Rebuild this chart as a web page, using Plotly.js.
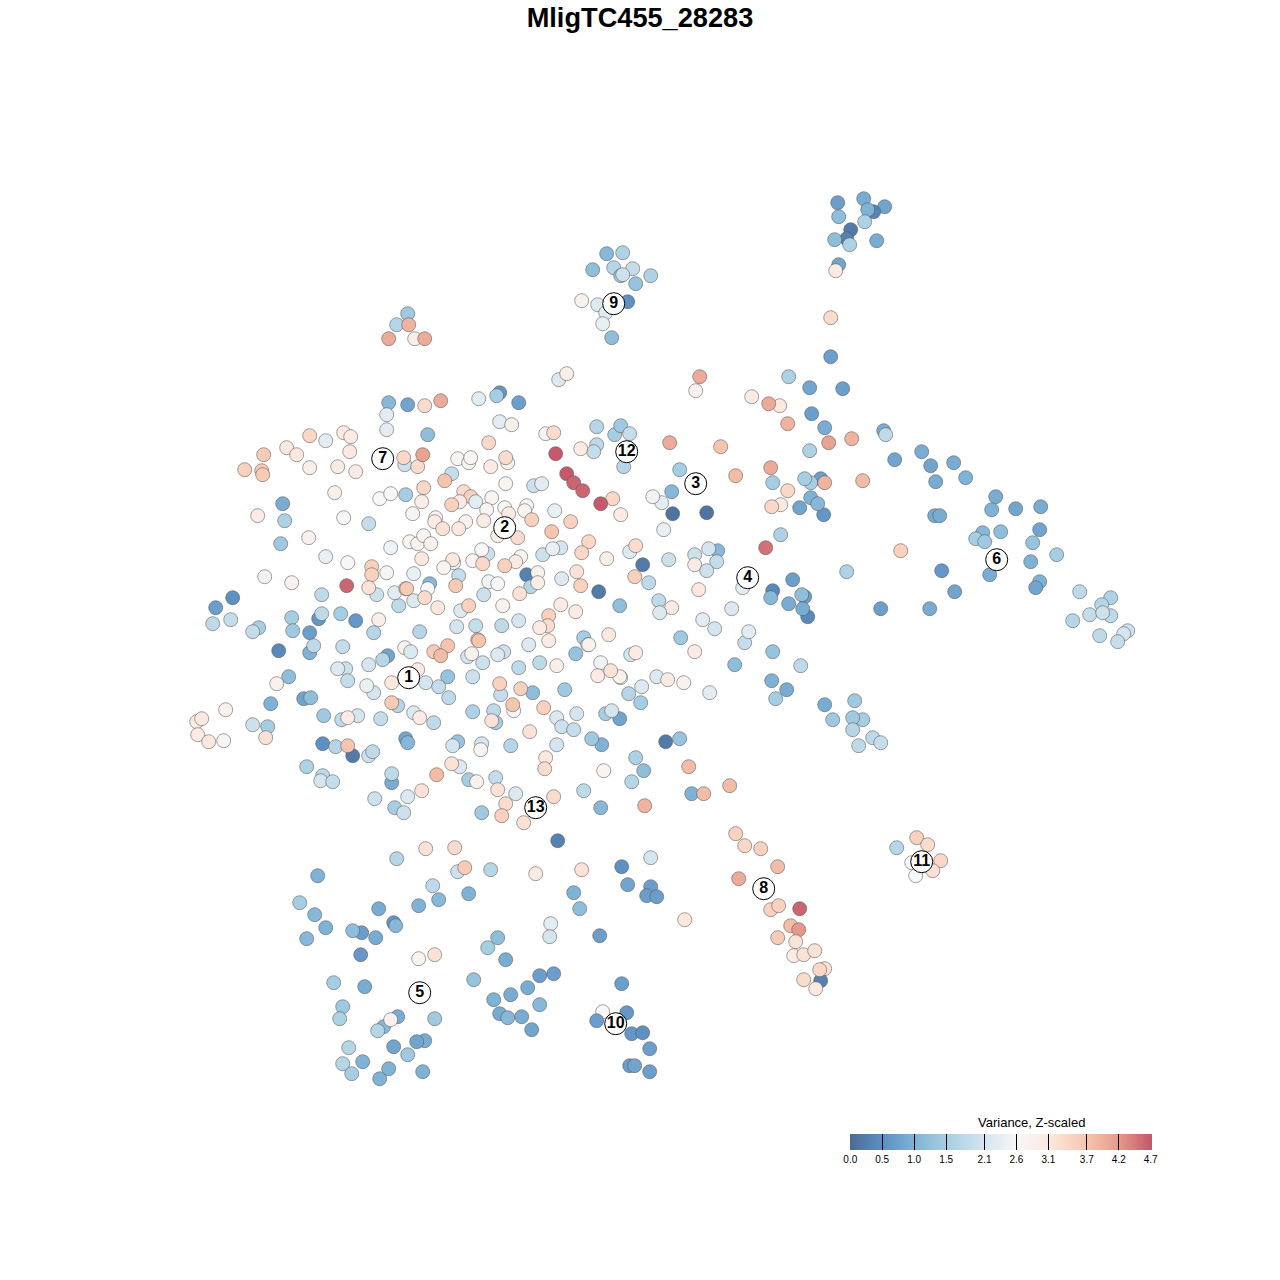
<!DOCTYPE html>
<html>
<head>
<meta charset="utf-8">
<script src="https://cdn.plot.ly/plotly-3.0.1.min.js"></script>
<style>html,body{margin:0;padding:0;background:#fff}#chart{width:1280px;height:1280px}</style>
</head>
<body>
<div id="chart"></div>
<script>
// Each point: [tSNE x, tSNE y, variance z-score]
const clusterTopRight = [[837,202,.7],[863,198,.9],[884,206,.8],[873,211,.3],[867,209,1.0],[838,216,1.2],[864,221,1.6],[850,229,.2],[846,238,.3],[834,239,1.2],[849,244,1.6],[876,240,.9],[838,264,.8],[835,270,3.0],[830,317,3.3],[830,356,.7]];
const cluster9 = [[606,253,1.1],[622,252,1.6],[592,269,1.2],[613,267,1.7],[632,268,1.9],[620,275,1.4],[622,274,2.0],[650,275,1.6],[635,283,1.3],[581,300,2.8],[597,304,2.2],[627,301,.5],[605,312,2.3],[602,323,2.4],[611,337,1.2]];
const clusterSmall = [[407,313,1.4],[396,324,1.7],[408,324,3.9],[388,338,4.0],[414,338,2.9],[424,338,4.0]];
const cluster3and4 = [[699,376,4.0],[695,390,2.8],[788,376,1.6],[809,387,.8],[842,388,.7],[751,396,3.0],[779,405,3.1],[768,403,4.0],[811,413,.7],[787,423,3.9],[824,427,.9],[828,442,4.1],[851,438,3.9],[809,450,1.6],[669,442,4.0],[720,446,3.7],[679,469,1.5],[770,467,4.0],[735,475,3.8],[772,482,1.5],[820,478,.7],[810,482,1.5],[804,478,1.5],[824,482,3.9],[862,480,3.8],[787,490,3.4],[671,491,1.1],[661,502,2.3],[652,496,2.5],[672,513,.1],[706,512,.1],[780,504,3.0],[771,506,3.4],[799,507,.8],[810,497,1.0],[823,514,.6],[817,503,1.1],[663,529,2.4],[780,534,1.6],[765,547,4.5],[629,551,2.2],[635,545,3.3],[717,550,1.1],[694,554,2.0],[708,548,2.1],[716,561,1.9],[668,559,2.0],[642,564,.2],[694,564,3.0],[706,570,2.0],[634,576,3.5],[648,582,1.8],[742,587,2.3],[846,571,1.6],[792,579,.7],[772,590,.4],[770,597,1.1],[698,589,3.1],[658,600,1.8],[671,607,3.0],[659,612,2.2],[619,605,1.2],[788,603,.9],[804,596,.7],[801,594,1.2],[807,616,.4],[802,608,.9],[731,608,2.2],[702,619,2.3],[714,628,2.1],[880,608,.7]];
const clusterMidRight = [[680,637,1.4],[744,642,1.9],[748,631,2.3],[694,651,3.0],[772,651,1.3],[630,654,2.1],[635,652,3.0],[734,664,1.2],[800,665,1.8],[620,677,2.6],[656,676,2.2],[667,679,3.0],[683,682,2.8],[641,686,2.2],[628,693,1.7],[709,692,2.3],[640,702,1.5],[771,680,1.0],[786,689,.9],[775,698,1.5],[824,704,.9],[854,700,1.4],[832,719,1.4],[862,719,1.5],[852,717,1.4],[852,729,1.7],[872,737,1.8],[880,742,1.9],[858,745,1.8],[665,741,.2],[679,738,1.3],[635,757,1.6],[643,770,1.2],[631,781,1.7],[688,766,3.8],[729,785,3.8],[691,793,1.0],[703,793,3.8],[644,805,3.9]];
const cluster13 = [[410,651,2.2],[433,651,3.6],[447,645,3.7],[440,655,3.8],[478,640,3.7],[467,656,2.1],[471,653,2.8],[482,662,2.0],[503,651,2.0],[497,654,2.2],[528,644,2.2],[548,640,3.0],[575,653,1.3],[588,644,2.8],[539,662,1.8],[518,667,1.8],[556,665,2.9],[600,662,2.5],[597,675,3.0],[619,676,2.8],[610,670,3.2],[417,669,3.0],[447,676,1.3],[425,682,2.1],[438,686,1.9],[448,697,1.8],[472,676,2.0],[500,694,1.9],[499,683,3.5],[532,692,1.2],[520,688,3.5],[564,689,1.4],[513,710,2.6],[512,704,3.7],[543,707,3.5],[413,712,2.2],[419,717,3.0],[433,722,1.8],[472,711,1.6],[493,710,1.8],[495,722,1.5],[491,720,3.2],[556,717,2.2],[561,726,2.0],[573,729,1.9],[576,713,2.1],[619,718,.8],[605,713,1.5],[611,710,2.1],[529,731,3.2],[601,744,1.0],[591,738,1.4],[405,738,.8],[407,742,1.1],[457,741,1.3],[452,745,2.1],[481,743,2.1],[480,749,2.7],[510,745,1.7],[556,744,2.1],[545,757,3.1],[544,768,3.3],[459,766,2.2],[451,763,3.2],[436,774,3.8],[468,779,1.5],[476,781,2.8],[495,777,1.9],[497,789,3.2],[421,790,3.2],[407,796,2.2],[515,793,2.2],[505,803,3.3],[481,812,1.4],[501,815,3.5],[523,822,3.2],[553,796,3.3],[583,790,1.8],[603,770,2.7],[600,807,1.1],[403,812,2.0],[557,840,.3]];
const clusterLeft1 = [[215,607,.7],[232,597,.5],[212,623,1.8],[230,619,1.9],[258,627,1.5],[252,631,1.9],[291,617,1.5],[292,630,1.4],[318,618,.6],[321,613,1.8],[340,613,1.5],[355,620,.6],[378,619,2.9],[373,632,1.7],[398,605,1.8],[413,600,2.2],[309,632,.7],[342,646,1.9],[309,652,1.0],[313,645,1.8],[278,650,.4],[419,631,1.7],[404,647,2.8],[387,655,.8],[382,659,1.7],[368,664,2.1],[345,668,2.0],[337,668,2.2],[347,680,1.9],[373,692,2.1],[366,685,2.4],[391,682,3.1],[288,676,1.2],[276,683,2.8],[303,698,.8],[310,697,1.2],[270,703,1.0],[397,705,1.7],[391,702,3.6],[380,718,1.9],[323,715,1.4],[341,719,1.8],[357,715,2.1],[347,717,3.0],[225,709,2.8],[196,721,3.0],[201,718,3.1],[197,734,3.0],[208,741,3.1],[223,740,2.7],[252,724,2.0],[267,726,1.5],[265,737,3.2],[322,743,.5],[335,746,1.7],[352,755,.2],[347,745,3.7],[368,755,2.0],[372,751,1.8],[306,766,1.6],[322,775,1.8],[320,780,2.1],[332,781,1.9],[391,782,.9],[391,773,1.8],[374,798,2.0],[394,807,1.5]];
const clusterLeft7 = [[388,402,1.1],[407,404,.8],[386,414,2.3],[386,429,2.3],[309,435,3.4],[325,440,2.3],[343,432,3.0],[350,436,3.0],[349,451,3.1],[286,447,3.1],[296,454,3.1],[263,454,3.6],[244,469,3.5],[261,470,3.6],[262,474,3.6],[309,467,2.9],[337,466,3.0],[355,471,3.0],[404,464,2.0],[403,457,3.4],[417,466,3.3],[422,454,4.1],[334,492,2.9],[282,503,.9],[257,515,3.0],[284,520,1.6],[379,498,2.6],[390,493,2.6],[405,494,1.5],[343,517,2.6],[368,523,1.9],[412,513,2.7],[308,537,2.8],[280,543,1.4],[325,556,2.4],[347,562,2.6],[390,547,2.5],[409,541,2.7],[417,543,2.7],[371,566,3.5],[371,574,3.5],[386,572,2.7],[413,573,2.4],[264,576,2.5],[291,582,2.8],[346,585,4.6],[376,594,2.0],[368,587,3.2],[321,594,1.8],[394,592,2.3],[405,588,3.5]];
const clusterCore2 = [[427,434,1.2],[488,442,3.4],[457,458,2.7],[468,462,2.7],[470,457,2.7],[490,466,3.0],[507,462,2.8],[505,457,3.3],[555,453,4.7],[596,444,1.8],[593,451,1.9],[580,448,3.0],[614,434,1.5],[620,425,1.4],[629,433,1.9],[623,466,1.7],[545,433,2.7],[553,432,3.3],[451,473,1.9],[444,480,3.7],[423,487,3.4],[421,501,2.9],[463,491,3.3],[470,496,3.5],[505,483,2.7],[533,485,2.0],[541,483,2.3],[566,473,4.7],[573,482,4.6],[582,490,4.6],[612,498,3.4],[600,503,4.7],[620,514,3.0],[491,497,2.7],[475,501,2.3],[459,501,3.0],[451,504,3.5],[486,509,2.7],[504,507,2.7],[508,513,3.0],[526,505,2.7],[524,510,2.7],[554,510,2.4],[483,520,3.0],[531,519,3.5],[570,521,3.5],[551,531,3.7],[435,517,2.8],[434,521,3.0],[465,521,2.8],[458,528,3.1],[442,528,3.2],[497,535,2.9],[517,537,3.3],[423,535,2.7],[430,543,2.8],[487,553,2.0],[481,549,2.6],[472,560,2.7],[421,558,3.1],[453,562,2.5],[452,559,3.1],[443,567,2.7],[482,563,3.4],[520,556,2.7],[515,561,3.0],[504,565,3.5],[542,554,2.0],[560,547,2.1],[552,548,2.4],[588,541,3.4],[581,552,3.4],[606,558,2.9],[458,575,1.9],[455,585,3.6],[429,583,1.1],[427,588,2.6],[406,588,3.6],[424,597,3.3],[437,607,3.1],[460,610,2.2],[468,605,3.5],[488,581,2.5],[497,583,2.6],[483,594,2.0],[502,605,2.8],[526,574,.3],[530,586,1.7],[537,572,2.8],[537,582,2.9],[519,593,3.2],[561,578,2.2],[576,571,3.2],[580,585,3.5],[598,591,.2],[560,604,3.0],[575,611,3.0],[548,615,3.5],[547,625,3.3],[539,627,3.0],[518,620,2.1],[501,625,1.8],[475,625,1.9],[456,626,2.1],[583,637,1.5],[587,644,2.8],[608,634,3.1],[477,639,3.7],[424,405,3.3],[440,400,4.0],[478,398,2.3],[499,392,.6],[496,395,1.5],[518,402,.7],[558,379,2.2],[566,373,2.9],[499,421,2.3],[511,424,2.9],[596,426,1.7]];
const cluster8 = [[735,833,3.5],[744,845,3.4],[760,848,3.5],[777,866,3.8],[738,878,4.0],[770,909,3.5],[778,905,3.5],[799,908,4.6],[790,925,3.8],[798,929,4.2],[777,937,3.6],[795,941,3.2],[793,955,3.0],[803,954,3.2],[814,950,3.2],[824,968,3.2],[820,980,.3],[819,969,3.4],[803,979,3.3],[815,988,3.1]];
const cluster11 = [[916,837,3.5],[927,844,3.3],[896,847,1.7],[911,862,2.6],[940,860,3.4],[932,870,3.2],[915,875,2.6]];
const cluster5and10 = [[396,858,1.7],[425,848,3.2],[454,847,3.3],[457,871,2.0],[464,867,3.6],[490,869,1.7],[535,873,3.0],[581,869,3.2],[621,866,.5],[650,857,2.1],[627,884,.8],[650,886,.7],[646,895,.7],[656,896,.7],[573,892,1.0],[579,908,1.2],[684,919,3.1],[599,935,.7],[550,923,2.3],[549,936,2.1],[317,875,1.0],[299,902,1.5],[314,914,1.1],[325,927,1.0],[306,938,1.1],[361,932,.7],[352,930,1.2],[375,937,.9],[378,908,.9],[393,922,.6],[395,925,1.1],[360,954,.6],[418,905,1.0],[432,885,1.8],[438,899,1.1],[468,893,1.0],[434,954,3.2],[418,958,2.7],[497,937,1.2],[487,947,1.5],[505,959,.9],[333,982,1.5],[364,986,.9],[342,1006,1.4],[339,1018,1.6],[473,979,1.3],[539,975,.7],[553,973,.7],[527,987,.9],[493,999,1.0],[510,994,.9],[539,1004,1.1],[499,1013,.9],[507,1017,1.1],[521,1016,.9],[531,1029,.8],[621,983,.7],[602,1011,2.6],[626,1012,.6],[596,1020,.7],[631,1033,.6],[642,1032,.5],[649,1048,.7],[629,1065,.7],[634,1065,.8],[649,1071,.7],[434,1018,1.4],[397,1016,.9],[383,1026,1.1],[390,1019,2.8],[377,1030,1.7],[393,1046,.8],[424,1040,.9],[416,1041,.8],[407,1054,1.4],[348,1047,1.7],[342,1063,1.7],[362,1061,1.0],[351,1073,1.5],[379,1078,1.0],[388,1068,1.0],[422,1071,1.0]];
const cluster6 = [[894,459,.8],[883,430,.9],[885,434,1.8],[921,451,.9],[930,465,.8],[953,462,.9],[935,481,.9],[965,477,1.0],[995,496,.9],[991,509,1.0],[1015,508,.8],[1040,506,.9],[934,515,.9],[939,515,.9],[1039,529,.8],[982,532,1.1],[975,538,1.5],[984,541,1.4],[1000,531,1.2],[1032,542,1.3],[1056,554,1.5],[1030,561,1.0],[900,550,3.5],[941,570,.6],[989,574,.9],[1039,581,1.0],[1035,587,.8],[954,591,.8],[929,608,.9],[1079,591,1.8],[1110,597,1.6],[1101,604,1.7],[1089,614,1.9],[1110,615,1.8],[1102,612,2.0],[1072,620,1.7],[1099,635,1.8],[1127,630,2.0],[1123,633,2.1],[1117,641,1.9]];

const clusterLabels = ["1","2","3","4","5","6","7","8","9","10","11","12","13"];
const labelX = [408,504,695,747,419,996,382,763,613,615,921,626,535];
const labelY = [677,527,483,577,992,559,458,888,303,1023,861,451,807];

const legendTicks = [0,0.5,1.0,1.5,2.1,2.6,3.1,3.7,4.2,4.7];
const legendTickText = ["0.0","0.5","1.0","1.5","2.1","2.6","3.1","3.7","4.2","4.7"];
const legendColors = ["#4a6c96","#5d90c3","#7fb3d6","#a6cee3","#d5e5ef","#f7f7f7","#fce8df","#f7c5ae","#e4998a","#c4566a"];
const chartTitle = "MligTC455_28283";
const legendTitle = "Variance, Z-scaled";

const points = [].concat(clusterTopRight,cluster9,clusterSmall,cluster3and4,clusterMidRight,clusterLeft1,clusterLeft7,clusterCore2,cluster13,cluster8,cluster11,cluster5and10,cluster6);
const cMin = -0.012, cMax = 4.712;
const scale = legendTicks.map((t,i)=>[i===0?0:i===legendTicks.length-1?1:(t-cMin)/(cMax-cMin),legendColors[i]]);

const cells = {
  type:'scatter', mode:'markers', hoverinfo:'skip', showlegend:false,
  x:points.map(p=>p[0]), y:points.map(p=>p[1]),
  marker:{
    size:14, color:points.map(p=>p[2]), cmin:cMin, cmax:cMax, colorscale:scale,
    line:{color:'rgba(85,85,85,0.55)',width:1},
    colorbar:{
      orientation:'h', lenmode:'pixels', len:302, thickness:16, thicknessmode:'pixels',
      x:1000.5/1280, xanchor:'center', y:1-1134/1280, yanchor:'top', xpad:0, ypad:0,
      outlinewidth:0, ticks:'inside', ticklen:16, tickcolor:'#000', tickwidth:1,
      tickmode:'array', tickvals:legendTicks, ticktext:legendTickText,
      tickfont:{family:'Liberation Sans, Arial, sans-serif',size:10,color:'#000'}
    }
  }
};
const labels = {
  type:'scatter', mode:'markers+text', hoverinfo:'skip', showlegend:false,
  x:labelX, y:labelY, text:clusterLabels, textposition:'middle center',
  textfont:{family:'Liberation Sans, Arial, sans-serif',size:16,color:'#000',weight:700},
  marker:{size:22,color:'#fff',line:{color:'#000',width:1}}
};
const hidden = {visible:false,fixedrange:true};
Plotly.newPlot('chart',[cells,labels],{
  width:1280,height:1280,margin:{l:0,r:0,t:0,b:0},
  paper_bgcolor:'#fff',plot_bgcolor:'#fff',showlegend:false,
  xaxis:Object.assign({},hidden,{range:[-0.7,1279.3]}),
  yaxis:Object.assign({},hidden,{range:[1279.3,-0.7]}),
  title:{text:'<b>'+chartTitle+'</b>',x:0.5,xanchor:'center',xref:'paper',y:1-17/1280,yanchor:'middle',yref:'container',
    font:{family:'Liberation Sans, Arial, sans-serif',size:27.2,color:'#000'}},
  annotations:[{text:legendTitle,xref:'x',yref:'y',x:1031,y:1122,showarrow:false,xanchor:'center',yanchor:'middle',
    font:{family:'Liberation Sans, Arial, sans-serif',size:13,color:'#000'}}]
},{staticPlot:true,displayModeBar:false});
</script>
</body>
</html>
